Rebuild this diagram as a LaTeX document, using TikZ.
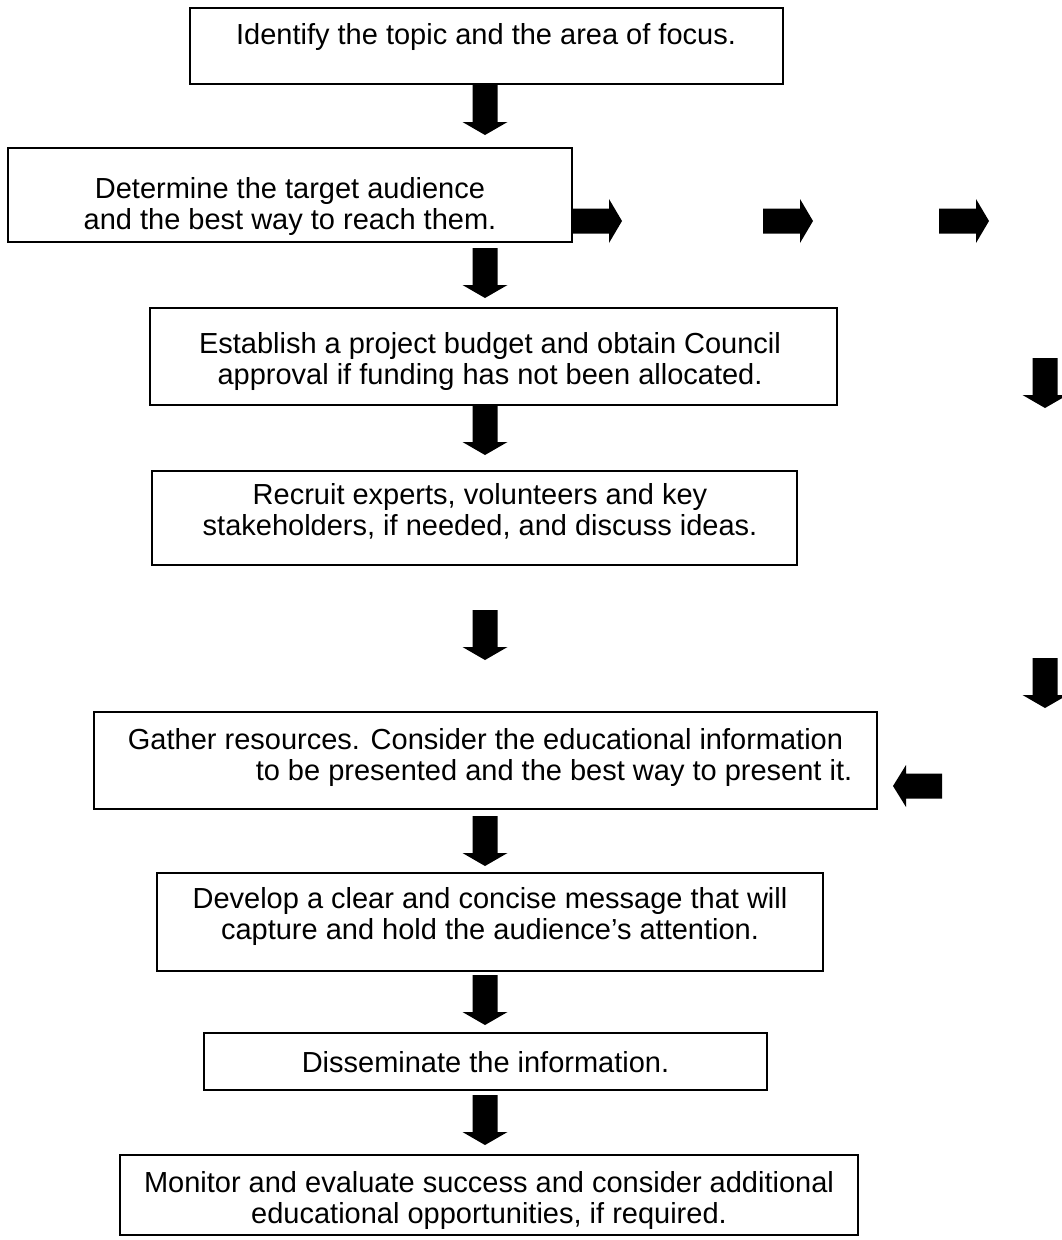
\documentclass[tikz,border=0pt]{standalone}
\usepackage{fontspec}
\setmainfont{Liberation Sans}
\begin{document}
\begin{tikzpicture}[x=1pt,y=-1pt,
  box/.style={draw=black, line width=1.4pt, inner sep=0pt},
  txt/.style={align=center, inner sep=0pt, font=\fontsize{29}{31}\selectfont},
  downarr/.pic={\fill[black] (-12.5,0) -- (12.5,0) -- (12.5,37) -- (22.5,37) -- (0,50) -- (-22.5,37) -- (-12.5,37) -- cycle;},
  rightarr/.pic={\fill[black] (0,-12.5) -- (37,-12.5) -- (37,-22) -- (50,0) -- (37,22) -- (37,12.5) -- (0,12.5) -- cycle;},
  leftarr/.pic={\fill[black] (0,-12.5) -- (-36,-12.5) -- (-36,-21) -- (-49,0) -- (-36,21) -- (-36,12.5) -- (0,12.5) -- cycle;}
]
\useasboundingbox (0,0) rectangle (1062,1240);

% boxes
\node[box, minimum width=593pt, minimum height=76pt] (b1) at (486.5,46) {};
\node[box, minimum width=564pt, minimum height=94pt] (b2) at (290,195) {};
\node[box, minimum width=687pt, minimum height=97pt] (b3) at (493.5,356.5) {};
\node[box, minimum width=645pt, minimum height=94pt] (b4) at (474.5,518) {};
\node[box, minimum width=783pt, minimum height=97pt] (b5) at (485.5,760.5) {};
\node[box, minimum width=666pt, minimum height=98pt] (b6) at (490,922) {};
\node[box, minimum width=563pt, minimum height=57pt] (b7) at (485.5,1061.5) {};
\node[box, minimum width=738pt, minimum height=80pt] (b8) at (489,1195) {};

% texts
\node[txt] (t1) at (486,37) {Identify the topic and the area of focus.};
\node[txt] (t2) at (290,206) {Determine the target audience\\and the best way to reach them.};
\node[txt] (t3) at (490,361) {Establish a project budget and obtain Council\\approval if funding has not been allocated.};
\node[txt] (t4) at (480,511) {Recruit experts, volunteers and key\\stakeholders, if needed, and discuss ideas.};
\node[txt] (t5) at (485.5,757) {Gather resources. Consider the educational information\\\hspace*{137pt}to be presented and the best way to present it.};
\node[txt] (t6) at (490,916) {Develop a clear and concise message that will\\capture and hold the audience’s attention.};
\node[txt] (t7) at (485.5,1062) {Disseminate the information.};
\node[txt] (t8) at (489,1200) {Monitor and evaluate success and consider additional\\educational opportunities, if required.};

% vertical block arrows
\pic (a1) at (485,85) {downarr};
\pic (a2) at (485,248) {downarr};
\pic (a3) at (485,405) {downarr};
\pic (a4) at (485,610) {downarr};
\pic (a5) at (485,816) {downarr};
\pic (a6) at (485,975) {downarr};
\pic (a7) at (485,1095) {downarr};

% right side arrows
\pic (r1) at (572,221) {rightarr};
\pic (r2) at (763,221) {rightarr};
\pic (r3) at (939,221) {rightarr};
\pic (d1) at (1045,358) {downarr};
\pic (d2) at (1045,658) {downarr};
\pic (l1) at (942,786) {leftarr};
\end{tikzpicture}
\end{document}
